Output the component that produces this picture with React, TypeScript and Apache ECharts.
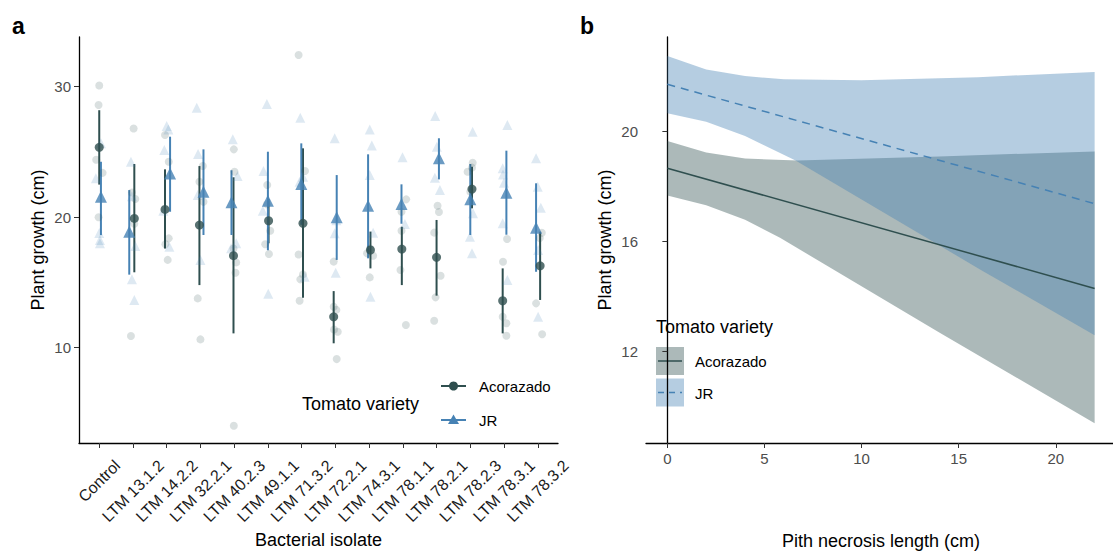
import React, { useEffect, useRef } from "react";
import * as echarts from "echarts";

// ---------- Panel a data ----------
const categories = [
  "Control", "LTM 13.1.2", "LTM 14.2.2", "LTM 32.2.1", "LTM 40.2.3", "LTM 49.1.1", "LTM 71.3.2",
  "LTM 72.2.1", "LTM 74.3.1", "LTM 78.1.1", "LTM 78.2.1", "LTM 78.2.3", "LTM 78.3.1", "LTM 78.3.2",
];
const yTicksA = [10, 20, 30];

const acoMean = [25.36, 19.91, 20.6, 19.4, 17.05, 19.73, 19.53, 12.37, 17.49, 17.56, 16.93, 22.16, 13.6, 16.28];
const acoLow = [22.5, 15.78, 17.6, 14.8, 11.1, 18.0, 13.83, 10.34, 16.08, 14.8, 13.99, 20.68, 11.1, 13.66];
const acoHigh = [28.2, 24.08, 23.67, 23.92, 23.06, 21.4, 25.28, 14.34, 18.9, 19.27, 19.79, 23.87, 16.08, 18.89];
const acoShift = [0, 0.04, -0.05, -0.03, -0.02, 0.02, 0.04, -0.05, 0.04, -0.03, 0, 0.05, -0.04, 0.07];

const jrMean = [21.57, 18.89, 23.36, 21.95, 21.14, 21.27, 22.54, 19.99, 20.88, 21.01, 24.51, 21.37, 21.88, 19.2];
const jrLow = [18.63, 15.6, 20.42, 18.64, 18.64, 17.47, 19.42, 16.73, 16.85, 19.5, 22.9, 18.64, 18.66, 15.82];
const jrHigh = [24.25, 22.08, 26.17, 25.2, 23.6, 25.02, 25.66, 23.23, 24.82, 22.52, 26.05, 24.08, 25.1, 22.6];
const jrShift = [0.05, -0.11, 0.1, 0.09, -0.08, 0, -0.01, 0.04, -0.03, -0.04, 0.07, 0, 0.07, -0.05];

const rawAcoValues = [
  [30.1, 28.6, 24.4, 23.4, 20.0],
  [26.8, 21.9, 21.4, 19.5, 10.9],
  [26.3, 24.25, 18.38, 17.93, 16.73],
  [23.92, 22.72, 21.19, 13.78, 10.64],
  [25.2, 23.49, 17.6, 16.54, 15.75, 4.02],
  [22.47, 21.0, 18.97, 17.93, 17.18],
  [32.43, 23.54, 17.15, 15.62, 15.24, 13.6],
  [16.6, 13.14, 12.9, 11.4, 11.23, 9.13],
  [17.6, 17.24, 17.05, 15.39],
  [21.37, 20.42, 18.97, 15.95, 11.74],
  [20.88, 20.4, 18.82, 15.52, 13.86, 12.07],
  [24.18, 23.8, 23.49, 21.95],
  [18.33, 16.59, 12.37, 11.87, 10.92],
  [18.81, 18.4, 13.4, 11.03],
];
const rawAcoJitter = [
  [0, -0.02, -0.09, 0.1, -0.02],
  [0.02, -0.03, 0.07, 0.04, -0.06],
  [-0.05, 0.06, 0.06, -0.04, 0.03],
  [0.07, -0.03, 0.09, -0.08, 0],
  [-0.01, 0.01, -0.02, 0.06, 0.04, -0.01],
  [-0.02, -0.03, 0.07, -0.08, 0.03],
  [-0.09, 0.1, -0.09, 0.04, -0.04, -0.06],
  [-0.05, -0.05, 0.03, -0.04, 0.07, 0.04],
  [0.03, -0.06, 0.12, 0.02],
  [0.1, -0.04, -0.04, -0.07, 0.09],
  [0.03, 0.07, -0.07, 0.12, -0.03, -0.07],
  [0.07, 0.05, -0.08, 0],
  [0.09, -0.03, -0.04, 0.07, 0.07],
  [0.12, 0.06, -0.05, 0.13],
];
const rawJrValues = [
  [25.66, 22.98, 18.8, 18.25, 18.0],
  [24.25, 21.6, 17.8, 15.24, 13.65],
  [26.99, 26.73, 25.15, 20.5, 17.74],
  [28.39, 24.84, 21.7, 16.73],
  [25.97, 23.16, 18.0, 17.62],
  [28.67, 23.54, 20.5, 14.14],
  [27.62, 23.1, 22.72, 15.44],
  [26.05, 19.77, 18.77, 15.75],
  [26.73, 25.5, 23.23, 18.82, 13.91],
  [24.59, 19.48],
  [27.75, 25.4, 23.03, 22.08],
  [26.55, 20.3, 18.5, 17.24],
  [27.07, 23.75, 23.28, 22.64, 19.53, 15.19],
  [24.51, 22.34, 20.72, 17.49, 12.37],
];
const rawJrJitter = [
  [0.05, -0.1, 0, 0.02, 0.02],
  [-0.06, -0.03, 0.07, -0.03, 0.04],
  [0, 0.05, -0.07, -0.1, 0.08],
  [-0.11, -0.07, -0.08, 0],
  [-0.04, 0.1, 0.06, -0.09],
  [-0.03, -0.13, -0.15, 0.01],
  [-0.04, 0.04, -0.06, 0.09],
  [-0.02, 0.03, -0.02, 0.01],
  [0.02, 0.08, 0.02, 0.12, 0.04],
  [-0.01, 0.06],
  [-0.04, 0.01, -0.05, 0.1],
  [0.07, 0.08, -0.01, 0.05],
  [0.1, -0.04, -0.03, 0, -0.04, 0.1],
  [-0.05, 0, 0.09, 0.01, 0.01],
];

// ---------- Panel b data ----------
const xTicksB = [0, 5, 10, 15, 20];
const yTicksB = [12, 16, 20];
const fitX = [0, 22];
const acoFitY = [18.67, 14.3];
const jrFitY = [21.72, 17.38];
const acoUpperX = [0, 2, 4, 6.7, 14, 22];
const acoUpperY = [19.66, 19.24, 19.02, 18.95, 19.1, 19.28];
const acoLowerX = [0, 2, 4, 5.8, 14, 22];
const acoLowerY = [17.68, 17.32, 16.8, 16.14, 12.7, 9.4];
const jrUpperX = [0, 2, 4, 6, 10, 16, 22];
const jrUpperY = [22.75, 22.26, 22.02, 21.9, 21.87, 21.98, 22.17];
const jrLowerX = [0, 2, 4, 6.6, 16.1, 22];
const jrLowerY = [20.67, 20.36, 19.84, 18.95, 14.99, 12.6];

const ACO = "#2F4F4F";
const JR = "#4682B4";
const FONT = "'Liberation Sans', Arial, Helvetica, sans-serif";

export default function App() {
  const ref = useRef<HTMLDivElement>(null);
  useEffect(() => {
    document.body.style.margin = "0";
    const chart = echarts.init(ref.current!, null, { renderer: "svg" });
    const catIdx = categories.map((_, i) => i + 1);

    const rawAco: number[][] = [];
    rawAcoValues.forEach((vals, i) => vals.forEach((v, j) => rawAco.push([i + 1 + rawAcoJitter[i][j], v])));
    const rawJr: number[][] = [];
    rawJrValues.forEach((vals, i) => vals.forEach((v, j) => rawJr.push([i + 1 + rawJrJitter[i][j], v])));

    const errRender = (color: string) => (params: any, api: any) => {
      const x = api.value(0);
      const p1 = api.coord([x, api.value(1)]);
      const p2 = api.coord([x, api.value(2)]);
      return { type: "line", shape: { x1: p1[0], y1: p1[1], x2: p2[0], y2: p2[1] }, style: { stroke: color, lineWidth: 2 } };
    };
    const ribbonRender = (ux: number[], uy: number[], lx: number[], ly: number[], fill: string) => (params: any, api: any) => {
      const pts: number[][] = [];
      ux.forEach((x, i) => pts.push(api.coord([x, uy[i]])));
      for (let i = lx.length - 1; i >= 0; i--) pts.push(api.coord([lx[i], ly[i]]));
      return { type: "polygon", shape: { points: pts }, style: { fill } };
    };

    const axisLineStyle = { color: "#000", width: 1.3 };
    const tickStyle = { color: "#333", width: 1 };
    const numLabel = { color: "#4D4D4D", fontSize: 15, fontFamily: FONT };
    const nameStyle = { color: "#000", fontSize: 18, fontFamily: FONT };

    const catLabelAxis = (values: number[], margin: number) => ({
      type: "value", gridIndex: 0, min: 0.4, max: 14.6, position: "bottom",
      axisLine: { show: false }, axisTick: { show: false }, splitLine: { show: false },
      axisLabel: {
        customValues: values, rotate: 45, align: "center", verticalAlign: "middle", margin,
        color: "#1A1A1A", fontSize: 16, fontFamily: FONT,
        formatter: (v: number) => categories[Math.round(v) - 1] ?? "",
      },
    });

    chart.setOption({
      animation: false,
      textStyle: { fontFamily: FONT },
      grid: [
        { left: 79, top: 37, width: 479, height: 406, outerBoundsMode: "none", containLabel: false },
        { left: 646, top: 37, width: 470, height: 406, outerBoundsMode: "none", containLabel: false },
      ],
      xAxis: [
        {
          type: "value", gridIndex: 0, min: 0.4, max: 14.6, position: "bottom",
          axisLine: { lineStyle: axisLineStyle }, splitLine: { show: false },
          axisTick: { customValues: catIdx, length: 5, lineStyle: tickStyle },
          axisLabel: { show: false },
          name: "Bacterial isolate", nameLocation: "middle", nameGap: 88, nameTextStyle: nameStyle,
        },
        catLabelAxis([1], 38),
        catLabelAxis(catIdx.slice(1), 48),
        {
          type: "value", gridIndex: 1, min: -1.1, max: 23.1, position: "bottom",
          axisLine: { lineStyle: axisLineStyle }, splitLine: { show: false },
          axisTick: { customValues: xTicksB, length: 5, lineStyle: tickStyle },
          axisLabel: { customValues: xTicksB, margin: 8, ...numLabel },
          name: "Pith necrosis length (cm)", nameLocation: "middle", nameGap: 89, nameTextStyle: nameStyle,
        },
      ],
      yAxis: [
        {
          type: "value", gridIndex: 0, min: 2.7, max: 33.81,
          axisLine: { show: true, lineStyle: axisLineStyle }, splitLine: { show: false },
          axisTick: { show: true, customValues: yTicksA, length: 5, lineStyle: tickStyle },
          axisLabel: { customValues: yTicksA, margin: 8, ...numLabel },
          name: "Plant growth (cm)", nameLocation: "middle", nameGap: 32, nameTextStyle: nameStyle,
        },
        {
          type: "value", gridIndex: 1, min: 8.68, max: 23.44,
          axisLine: { show: true, lineStyle: axisLineStyle }, splitLine: { show: false },
          axisTick: { show: true, customValues: yTicksB, length: 5, lineStyle: tickStyle },
          axisLabel: { customValues: yTicksB, margin: 8, ...numLabel },
          name: "Plant growth (cm)", nameLocation: "middle", nameGap: 32, nameTextStyle: nameStyle,
        },
      ],
      series: [
        {
          type: "scatter", xAxisIndex: 0, yAxisIndex: 0, data: rawAco, symbol: "circle", symbolSize: 8,
          itemStyle: { color: "rgba(47,79,79,0.22)" }, silent: true,
        },
        {
          type: "scatter", xAxisIndex: 0, yAxisIndex: 0, data: rawJr, symbol: "triangle", symbolSize: 10,
          itemStyle: { color: "rgba(70,130,180,0.22)" }, silent: true,
        },
        {
          type: "custom", xAxisIndex: 0, yAxisIndex: 0, clip: false,
          data: acoMean.map((_, i) => [i + 1 + acoShift[i], acoLow[i], acoHigh[i]]),
          renderItem: errRender(ACO),
        },
        {
          type: "custom", xAxisIndex: 0, yAxisIndex: 0, clip: false,
          data: jrMean.map((_, i) => [i + 1 + jrShift[i], jrLow[i], jrHigh[i]]),
          renderItem: errRender(JR),
        },
        {
          type: "scatter", xAxisIndex: 0, yAxisIndex: 0, symbol: "circle", symbolSize: 9,
          data: acoMean.map((v, i) => [i + 1 + acoShift[i], v]), itemStyle: { color: ACO },
        },
        {
          type: "scatter", xAxisIndex: 0, yAxisIndex: 0, symbol: "triangle", symbolSize: 12,
          data: jrMean.map((v, i) => [i + 1 + jrShift[i], v]), itemStyle: { color: JR },
        },
        {
          type: "custom", xAxisIndex: 3, yAxisIndex: 1, clip: false, data: [[0, 12]],
          renderItem: ribbonRender(acoUpperX, acoUpperY, acoLowerX, acoLowerY, "rgba(47,79,79,0.4)"),
        },
        {
          type: "custom", xAxisIndex: 3, yAxisIndex: 1, clip: false, data: [[0, 12]],
          renderItem: ribbonRender(jrUpperX, jrUpperY, jrLowerX, jrLowerY, "rgba(70,130,180,0.4)"),
        },
        {
          type: "line", xAxisIndex: 3, yAxisIndex: 1, showSymbol: false, symbol: "none",
          data: fitX.map((x, i) => [x, acoFitY[i]]), lineStyle: { color: ACO, width: 1.5 },
        },
        {
          type: "line", xAxisIndex: 3, yAxisIndex: 1, showSymbol: false, symbol: "none",
          data: fitX.map((x, i) => [x, jrFitY[i]]), lineStyle: { color: JR, width: 1.5, type: [8, 6] },
        },
      ],
      graphic: [
        { type: "text", left: 12, top: 14, style: { text: "a", fontSize: 23, fontWeight: "bold", fill: "#000", fontFamily: FONT } },
        { type: "text", left: 580, top: 14, style: { text: "b", fontSize: 23, fontWeight: "bold", fill: "#000", fontFamily: FONT } },
        // legend a
        { type: "text", x: 302, y: 404, style: { text: "Tomato variety", fontSize: 18, fill: "#000", fontFamily: FONT, verticalAlign: "middle" } },
        { type: "line", shape: { x1: 441, y1: 386, x2: 466, y2: 386 }, style: { stroke: ACO, lineWidth: 2 } },
        { type: "circle", shape: { cx: 453.5, cy: 386, r: 4.5 }, style: { fill: ACO } },
        { type: "text", x: 479, y: 386, style: { text: "Acorazado", fontSize: 15, fill: "#000", fontFamily: FONT, verticalAlign: "middle" } },
        { type: "line", shape: { x1: 441, y1: 420, x2: 466, y2: 420 }, style: { stroke: JR, lineWidth: 2 } },
        { type: "polygon", shape: { points: [[453.5, 414.5], [459, 424], [448, 424]] }, style: { fill: JR } },
        { type: "text", x: 479, y: 420, style: { text: "JR", fontSize: 15, fill: "#000", fontFamily: FONT, verticalAlign: "middle" } },
        // legend b
        { type: "text", x: 656, y: 327, style: { text: "Tomato variety", fontSize: 18, fill: "#000", fontFamily: FONT, verticalAlign: "middle" } },
        { type: "rect", shape: { x: 656, y: 347, width: 28, height: 28 }, style: { fill: "rgba(47,79,79,0.4)" } },
        { type: "line", shape: { x1: 658, y1: 361, x2: 682, y2: 361 }, style: { stroke: ACO, lineWidth: 1.5 } },
        { type: "text", x: 695, y: 361, style: { text: "Acorazado", fontSize: 15, fill: "#000", fontFamily: FONT, verticalAlign: "middle" } },
        { type: "rect", shape: { x: 656, y: 378.5, width: 28, height: 28 }, style: { fill: "rgba(70,130,180,0.4)" } },
        { type: "line", shape: { x1: 658, y1: 392.5, x2: 682, y2: 392.5 }, style: { stroke: JR, lineWidth: 1.5, lineDash: [6, 5] } },
        { type: "text", x: 695, y: 393, style: { text: "JR", fontSize: 15, fill: "#000", fontFamily: FONT, verticalAlign: "middle" } },
      ],
    });
    return () => chart.dispose();
  }, []);
  return <div ref={ref} style={{ width: 1113, height: 552 }} />;
}
